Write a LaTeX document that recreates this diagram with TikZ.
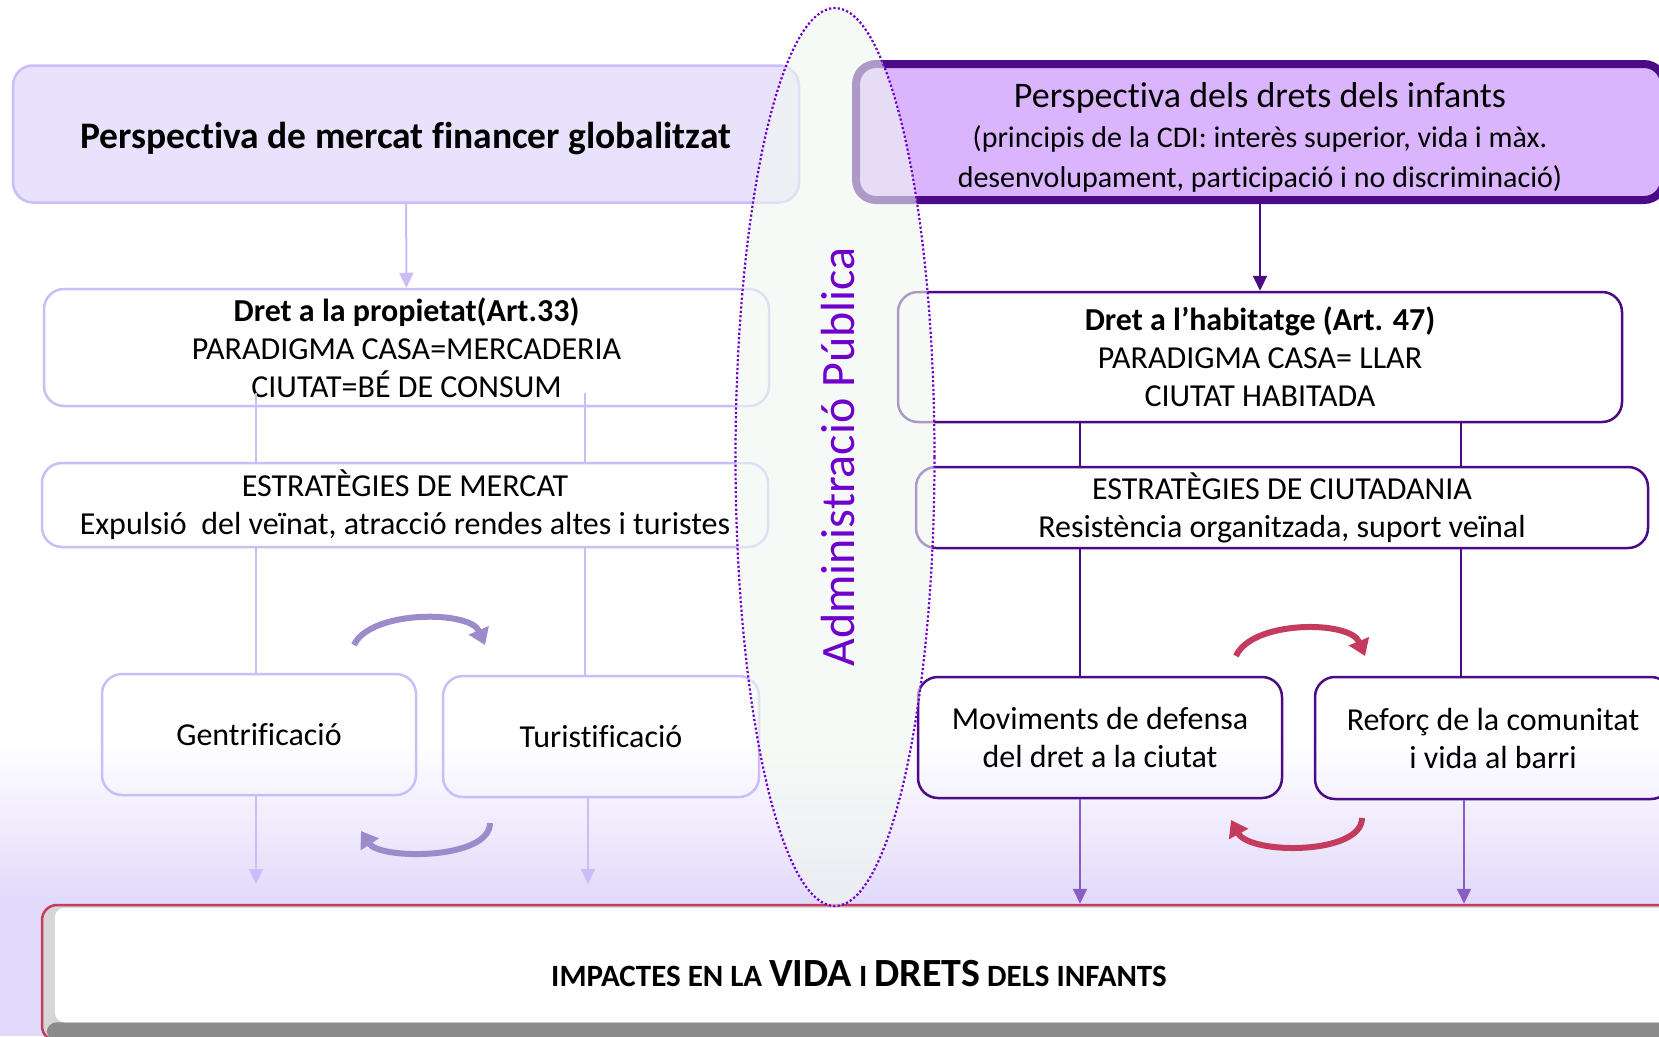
\documentclass[tikz,border=0pt]{standalone}
\usepackage{fontspec}
\setmainfont{Carlito}[Ligatures=NoCommon]
\usetikzlibrary{arrows.meta}
\definecolor{lavline}{HTML}{CBBDF7}
\definecolor{lavfill}{HTML}{E9E2FC}
\definecolor{lavback}{HTML}{E2DAFA}
\definecolor{indigo}{HTML}{4B0A86}
\definecolor{violetfill}{HTML}{DAB4FD}
\definecolor{midpurp}{HTML}{8A5CC8}
\definecolor{cyclav}{HTML}{9C8BCB}
\definecolor{crimson}{HTML}{C43B5D}
\definecolor{adminpurp}{HTML}{7000CC}
\definecolor{mint}{HTML}{F1F8F0}
\definecolor{shadowgray}{HTML}{8C8C8C}

\begin{document}
\begin{tikzpicture}[x=1pt,y=-1pt,
  lbox/.style={draw=lavline, line width=2.5pt, rounded corners=20pt, align=center, inner sep=0pt, font=\fontsize{32}{38}\selectfont},
  rbox/.style={draw=indigo, line width=2.5pt, rounded corners=20pt, align=center, inner sep=0pt, font=\fontsize{32}{38}\selectfont},
  lline/.style={draw=lavline, line width=2pt},
  rline/.style={draw=indigo, line width=2pt},
  ltip/.style={-{Triangle[length=15pt,width=14pt]}},
  cycle arc/.style={line width=6pt, -{Triangle[length=16pt,width=21pt]}}]
 \useasboundingbox (0,0) rectangle (1659,1036);
 \clip (0,0) rectangle (1659,1036);
 % background
 \fill[white] (0,0) rectangle (1659,1036);
 \shade[top color=white, bottom color=lavback] (0,740) rectangle (1659,900);
 \fill[lavback] (0,899) rectangle (1659,1036);

 % left column
 \node[lbox, fill=lavfill, minimum width=786, minimum height=137, font=\fontsize{37.5}{40}\selectfont\bfseries] (persp) at (406,134) {\rule{0pt}{36pt}Perspectiva de mercat financer globalitzat};
 \node[lbox, minimum width=725, minimum height=117] (prop) at (406.5,347.5) {\textbf{Dret a la propietat(Art.33)}\\PARADIGMA CASA=MERCADERIA\\CIUTAT=BÉ DE CONSUM};
 \node[lbox, minimum width=726, minimum height=84] (merc) at (405,505) {ESTRATÈGIES DE MERCAT\\Expulsió\ \ del veïnat, atracció rendes altes i turistes};
 \node[lbox, minimum width=314, minimum height=121] (gent) at (259,734.5) {Gentrificació};
 \node[lbox, minimum width=316, minimum height=121] (turist) at (601,736.5) {Turistificació};

 % right column
 \node[rbox, line width=8pt, fill=violetfill, minimum width=808, minimum height=136, font=\fontsize{30}{40}\selectfont] (drets) at (1260,132) {\rule{0pt}{36pt}{\fontsize{36}{40}\selectfont Perspectiva dels drets dels infants}\\(principis de la CDI: interès superior, vida i màx.\\desenvolupament, participació i no discriminació)};
 \node[rbox, minimum width=724, minimum height=130] (habit) at (1260,357) {\textbf{Dret a l’habitatge (Art. 47)}\\PARADIGMA CASA= LLAR\\CIUTAT HABITADA};
 \node[rbox, minimum width=732, minimum height=81] (ciut) at (1282,507.5) {ESTRATÈGIES DE CIUTADANIA\\Resistència organitzada, suport veïnal};
 \node[rbox, minimum width=364, minimum height=121] (mov) at (1100,737.5) {Moviments de defensa\\del dret a la ciutat};
 \node[rbox, minimum width=356, minimum height=122] (refor) at (1493,738) {Reforç de la comunitat\\i vida al barri};

 % impacts
 \node[draw=crimson, line width=2.5pt, fill=black!16, rounded corners=15pt, minimum width=1634, minimum height=136] (impact) at (859,973) {};
 \fill[shadowgray, rounded corners=10pt] ([xshift=6pt,yshift=1.5pt]impact.south west) rectangle ([yshift=20pt]impact.south east);
 \fill[white, rounded corners=10pt] ([xshift=14pt,yshift=-4pt]impact.north west) rectangle ([yshift=20pt]impact.south east);
 \node[font=\fontsize{31}{36}\selectfont\bfseries] (implbl) at (859,974) {IMPACTES EN LA {\fontsize{40}{44}\selectfont VIDA} I {\fontsize{40}{44}\selectfont DRETS} DELS INFANTS};

 \coordinate (xa) at (256,0);
 \coordinate (xb) at (585,0);
 \coordinate (xc) at (1080,0);
 \coordinate (xd) at (1461,0);
 \coordinate (endA) at (256,884);
 \coordinate (endB) at (588,884);

 % left connectors
 \draw[lline, ltip] (persp) -- (prop);
 \draw[lline] ([yshift=14pt]prop.south -| xa) -- (merc.north -| xa);
 \draw[lline] ([yshift=14pt]prop.south -| xb) -- (merc.north -| xb);
 \draw[lline] (merc.south -| xa) -- (gent.north -| xa);
 \draw[lline] (merc.south -| xb) -- (turist.north -| xb);
 \draw[lline, ltip] (gent.south -| endA) -- (endA);
 \draw[lline, ltip] (turist.south -| endB) -- (endB);

 % right connectors
 \draw[rline, ltip] (drets) -- (habit);
 \draw[rline] (habit.south -| xc) -- (ciut.north -| xc);
 \draw[rline] (habit.south -| xd) -- (ciut.north -| xd);
 \draw[rline] (ciut.south -| xc) -- (mov.north -| xc);
 \draw[rline] (ciut.south -| xd) -- (refor.north -| xd);
 \draw[rline, draw=midpurp, ltip] (mov.south -| xc) -- (impact.north -| xc);
 \draw[rline, draw=midpurp, ltip] ([xshift=3pt]refor.south -| xd) -- ([xshift=3pt]impact.north -| xd);

 % cycle arrows
 \coordinate (gA) at (354,645);
 \coordinate (gB) at (485,645);
 \coordinate (gC) at (490,823);
 \coordinate (gD) at (361,831);
 \coordinate (mA) at (1236,656);
 \coordinate (mB) at (1365,656);
 \coordinate (mC) at (1362,818);
 \coordinate (mD) at (1231,820);
 \draw[cycle arc, cyclav] (gA) .. controls (370,610) and (470,610) .. (gB);
 \draw[cycle arc, cyclav] (gC) .. controls (490,860) and (380,860) .. (gD);
 \draw[cycle arc, crimson] (mA) .. controls (1252,620) and (1350,620) .. (mB);
 \draw[cycle arc, crimson] (mC) .. controls (1362,855) and (1250,855) .. (mD);

 % administracio publica
 \draw[adminpurp, line width=2.2pt, dash pattern=on 2.2pt off 2.2pt, fill=mint, fill opacity=0.6] (835,457) ellipse [x radius=99.5pt, y radius=449pt];
 \node[rotate=90, text=adminpurp, font=\fontsize{48}{50}\selectfont] (admin) at (838,457) {Administració Pública};
\end{tikzpicture}
\end{document}
